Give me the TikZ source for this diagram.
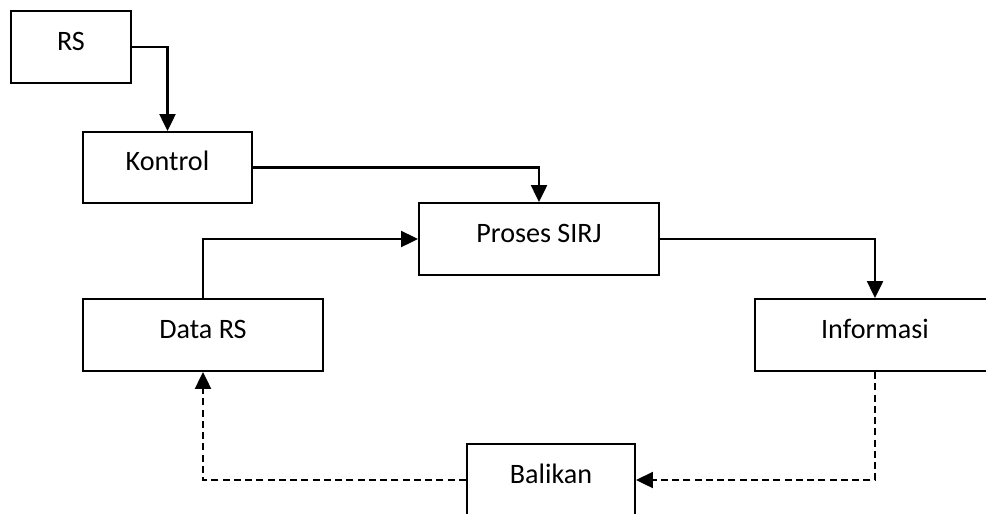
\documentclass[tikz,border=0pt]{standalone}
\usepackage{fontspec}
\setmainfont{Carlito}
\usetikzlibrary{arrows.meta, positioning}

\begin{document}
\begin{tikzpicture}[
  x=0.025cm, y=-0.025cm,
  box/.style  ={draw, line width=1.5pt, minimum width=6cm, minimum height=1.8cm,
                inner sep=0pt, text height=0.5cm, text depth=0.35cm,
                font=\fontsize{20}{24}\selectfont},
  arr/.style  ={-{Triangle[length=0.42cm, width=0.4cm]}, line width=1.5pt},
  darr/.style ={arr, dash pattern=on 5pt off 3pt},
]
\useasboundingbox (0,0) rectangle (986,513);
\clip (0,0) rectangle (986,513);

%% ---- Boxes ----
\node[box, minimum width=3cm] (rs) at (71,47) {RS};
\node[box, minimum width=4.225cm, minimum height=1.775cm] (kontrol) at (167.5,167.5) {Kontrol};
\node[box] (proses) at (539,239) {Proses SIRJ};
\node[box] (data) at (203,335) {Data RS};
\node[box] (info) at (875,335) {Informasi};
\node[box, minimum width=4.2cm] (balikan) at (551,480) {Balikan};

%% ---- Arrows ----
\draw[arr] (rs.east) -| (kontrol.north);
\draw[arr] (kontrol.east) -| (proses.north);
\draw[arr] (data.north) |- (proses.west);
\draw[arr] (proses.east) -| (info.north);
%% feedback loop (dashed)
\draw[darr] (info.south) |- (balikan.east);
\draw[darr] (balikan.west) -| (data.south);

\end{tikzpicture}
\end{document}
